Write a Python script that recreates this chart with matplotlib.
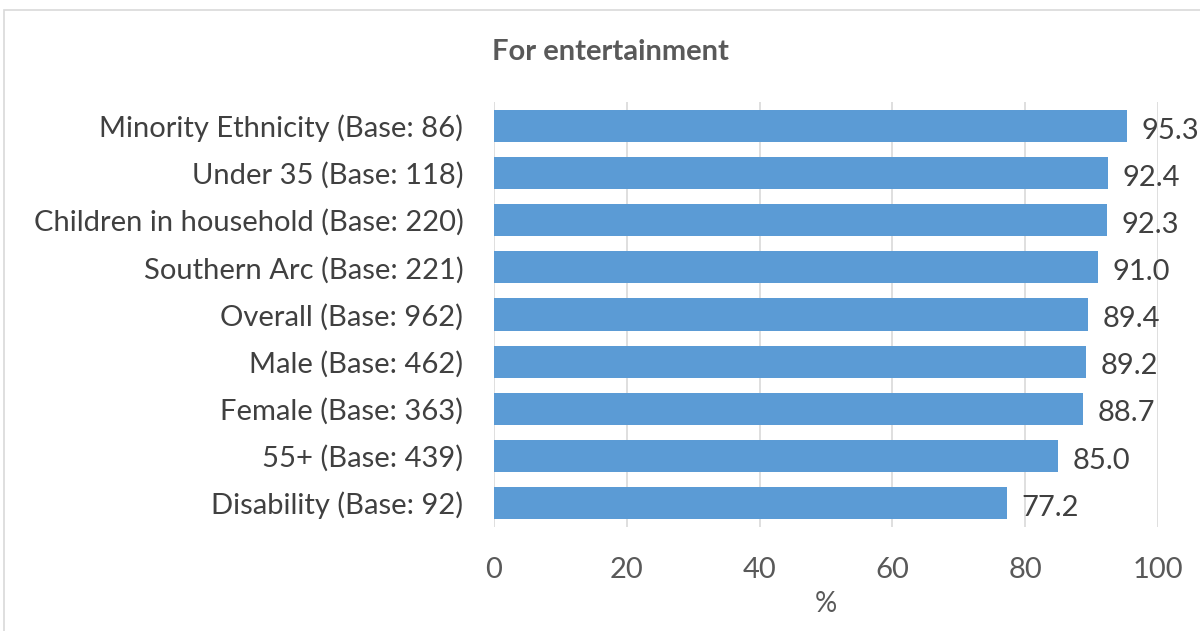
import matplotlib.pyplot as plt
from matplotlib.patches import Rectangle

plt.rcParams['font.family'] = ['Lato', 'DejaVu Sans']

categories = ["Minority Ethnicity (Base: 86)", "Under 35 (Base: 118)",
              "Children in household (Base: 220)", "Southern Arc (Base: 221)",
              "Overall (Base: 962)", "Male (Base: 462)", "Female (Base: 363)",
              "55+ (Base: 439)", "Disability (Base: 92)"]
values = [95.3, 92.4, 92.3, 91.0, 89.4, 89.2, 88.7, 85.0, 77.2]
xticks = [0, 20, 40, 60, 80, 100]

fig = plt.figure(figsize=(12, 6.31), dpi=100)
ax = fig.add_axes([0.4117, 0.1655, 0.5533, 0.6722])

# chart border
fig.patches.append(Rectangle((4 / 1200, -0.1), 1.2, 1 - 10 / 631 + 0.1,
                             transform=fig.transFigure, fill=False,
                             edgecolor="#d9d9d9", linewidth=1.2))

y = list(range(len(categories)))
ax.barh(y, values, height=0.68, color="#5b9bd5", zorder=3)
for yi, v in zip(y, values):
    ax.text(v + 2.2, yi + 0.1, f"{v:.1f}", va="center", ha="left",
            fontsize=21, color="#404040")

ax.set_ylim(len(categories) - 0.5, -0.5)
ax.set_xlim(0, 100)
ax.set_yticks(y)
ax.set_yticklabels(categories, fontsize=21, color="#404040")
ax.set_xticks(xticks)
ax.set_xticklabels([str(t) for t in xticks], fontsize=21, color="#595959")
ax.tick_params(axis="both", length=0)
ax.tick_params(axis="x", pad=22)
ax.tick_params(axis="y", pad=22)
ax.grid(axis="x", color="#d9d9d9", linewidth=1.2, zorder=0)
for s in ax.spines.values():
    s.set_visible(False)
ax.set_xlabel("%", fontsize=20, color="#595959", labelpad=6)

fig.text(610 / 1200, 1 - 52 / 631, "For entertainment", ha="center",
         va="center", fontsize=21, fontweight="bold", color="#595959")

fig.savefig("out.png", dpi=100)
